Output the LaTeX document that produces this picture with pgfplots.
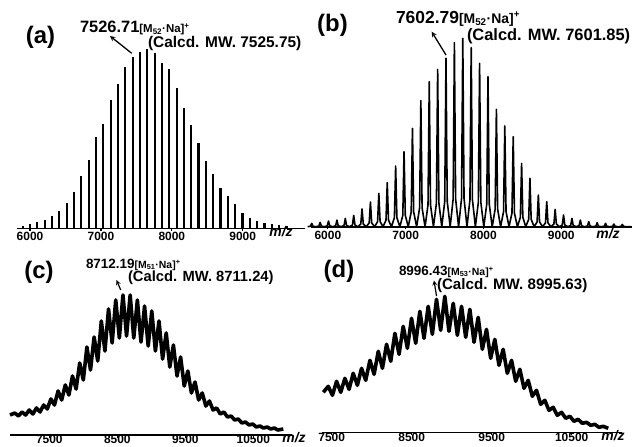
\documentclass[border=0pt]{standalone}
\usepackage{fontspec}
\setmainfont{Liberation Sans}
\usepackage{pgfplots}
\pgfplotsset{compat=1.18}
\begin{document}
\begin{tikzpicture}
\useasboundingbox (0,0) rectangle (633bp,-447bp);
\pgfplotsset{
  spec/.style={scale only axis, axis x line*=bottom, axis y line=none, ymin=0, clip=false,
    enlargelimits=false, tick align=outside, major tick length=2.5bp, scaled x ticks=false,
    xtick style={black, line width=1.2bp}, x axis line style={line width=1.6bp},
    xticklabel style={font=\bfseries\fontsize{12}{12}\selectfont, inner sep=0pt, outer sep=0pt, yshift=-1.5bp},
    ytick=\empty},
}
\newcommand{\mz}{\bfseries\itshape\fontsize{14}{14}\selectfont m/z}
% ---------------- (a)
\begin{axis}[spec, at={(16.7bp,-228.3bp)}, anchor=south west, width=288.3bp, height=179.3bp,
  xmin=5812, xmax=9879, ymax=100, xtick={6000,7000,8000,9000}, xticklabels={6000,7000,8000,9000}]
\addplot[ycomb, black, line width=2.2bp] coordinates {
(5897,1.5)(6000,2.4)(6103,3.3)(6207,4.6)(6310,6.9)(6414,9.9)(6517,14.3)(6620,20.1)(6724,29.4)
(6827,38.1)(6931,50.7)(7034,58.2)(7137,71.6)(7241,80.5)(7344,90.1)(7448,95.7)(7551,98.5)
(7654,100)(7758,98.0)(7861,92.4)(7966,88.8)(8068,78.4)(8171,66.9)(8275,57.6)(8378,47.8)
(8481,37.5)(8585,30.3)(8688,22.7)(8792,18.2)(8895,13.6)(8998,8.4)(9102,5.6)(9205,4.3)
(9309,3.2)(9412,2.4)(9515,1.9)(9619,1.5)};
\end{axis}
% ---------------- (b)
\begin{axis}[spec, at={(311bp,-226.7bp)}, anchor=south west, width=321bp, height=188.4bp,
  xmin=5783, xmax=9909, ymax=100, xtick={6000,7000,8000,9000}, xticklabels={6000,7000,8000,9000}]
\addplot[black, line width=1.6bp, line join=round] coordinates {
(5740,0)(5776,0.27)(5792,1.8)(5808,0.27)(5846,0)
(5884,0.35)(5900,2.3)(5916,0.35)(5954,0)
(5992,0.45)(6008,3.0)(6024,0.45)(6062,0)
(6100,0.53)(6116,3.5)(6132,0.53)(6170,0)
(6208,0.66)(6224,4.4)(6240,0.66)(6278,0)
(6316,0.9)(6332,6.0)(6348,0.9)(6386,0)
(6423,1.4)(6439,9.4)(6455,1.4)(6493,0)
(6531,2.0)(6547,13.1)(6563,2.0)(6601,0)
(6639,2.7)(6655,17.7)(6671,2.7)(6709,0)
(6747,3.5)(6763,23.4)(6779,3.5)(6817,0)
(6855,4.8)(6871,32.2)(6887,4.8)(6925,0)
(6963,6.0)(6979,39.8)(6995,6.0)(7033,0)
(7071,7.8)(7087,52.2)(7103,7.8)(7141,0)
(7179,10)(7195,66.9)(7211,10)(7249,0)
(7287,11.6)(7303,77.0)(7319,11.6)(7357,0)
(7395,12.5)(7411,83.5)(7427,12.5)(7464,0)
(7502,13.4)(7518,89.4)(7534,13.4)(7572,0)
(7610,14.7)(7626,97.7)(7642,14.7)(7680,0)
(7718,15)(7734,100)(7750,15)(7788,0)
(7826,14.3)(7842,95.0)(7858,14.3)(7896,0)
(7934,13)(7950,86.7)(7966,13)(8004,0)
(8042,12)(8058,79.6)(8074,12)(8112,0)
(8150,9.3)(8166,62.3)(8182,9.3)(8220,0)
(8258,8)(8274,53.5)(8290,8)(8328,0)
(8366,7.2)(8382,47.8)(8398,7.2)(8436,0)
(8474,5)(8490,33.6)(8506,5)(8543,0)
(8581,3.9)(8597,25.7)(8613,3.9)(8651,0)
(8689,2.5)(8705,16.8)(8721,2.5)(8759,0)
(8797,2.0)(8813,13.3)(8829,2.0)(8867,0)
(8905,1.4)(8921,9.2)(8937,1.4)(8975,0)
(9013,0.9)(9029,6.2)(9045,0.9)(9083,0)
(9121,0.66)(9137,4.4)(9153,0.66)(9191,0)
(9229,0.53)(9245,3.5)(9261,0.53)(9299,0)
(9337,0.4)(9353,2.7)(9369,0.4)(9407,0)
(9445,0.3)(9461,2.1)(9477,0.3)(9515,0)
(9553,0.27)(9569,1.8)(9585,0.27)(9622,0)
(9660,0.2)(9676,1.4)(9692,0.2)(9730,0)
(9768,0.18)(9784,1.2)(9800,0.18)(9838,0)(9900,0)};
\end{axis}
% ---------------- (c)
\begin{axis}[spec, at={(10bp,-435bp)}, anchor=south west, width=282bp, height=150bp,
  xmin=6922, xmax=11069, ymax=150, xtick={7500,8500,9500,10500}, xticklabels={7500,8500,9500,10500},
  xticklabel style={yshift=4bp}]
\addplot[black, line width=3.6bp, line join=round] coordinates {
(6922,20)
(6993,22)(7046,19)(7099,23)(7152,20)(7205,25)(7258,21)(7311,27)(7364,23)
(7417,30)(7470,26)(7523,36)(7576,30)(7629,44)(7682,35)(7735,50)(7788,40)
(7841,59)(7894,46)(7947,72)(8000,55)(8053,88)(8106,65)(8159,98)(8212,74)
(8265,114)(8318,84)(8371,126)(8424,92)(8477,135)(8530,97)(8583,140)(8636,99)
(8689,140)(8742,97)(8795,135)(8848,93)(8901,129)(8954,89)(9007,124)(9060,84)
(9113,114)(9166,76)(9219,102)(9272,68)(9325,90)(9378,59)(9431,78)(9484,49)
(9537,64)(9590,42)(9643,53)(9696,35)(9749,42)(9802,29)(9855,34)(9908,25)
(9961,27)(10014,21)(10067,23)(10120,18)(10173,19)(10226,15)(10279,16)(10332,12)
(10385,13)(10438,10)(10491,11)(10544,8)(10597,9)(10650,7)(10703,8)(10756,6)
(10809,7)(10860,5)(10941,6)};
\end{axis}
% ---------------- (d)
\begin{axis}[spec, at={(321.7bp,-432.3bp)}, anchor=south west, width=300bp, height=150bp,
  xmin=7375, xmax=11125, ymax=150, xtick={7500,8500,9500,10500}, xticklabels={7500,8500,9500,10500},
  xticklabel style={yshift=3bp}]
\addplot[black, line width=3.6bp, line join=round] coordinates {
(7395,40)
(7457,46)(7509,37)(7561,51)(7613,40)(7665,54)(7717,43)(7769,59)(7821,47)
(7873,64)(7925,52)(7978,72)(8030,58)(8082,81)(8134,64)(8186,88)(8238,71)
(8290,99)(8342,78)(8394,106)(8446,84)(8498,114)(8550,89)(8602,121)(8654,94)
(8706,126)(8758,98)(8810,133)(8862,102)(8914,136)(8966,101)(9019,129)(9071,97)
(9123,126)(9175,95)(9227,123)(9279,90)(9331,115)(9383,83)(9435,103)(9487,74)
(9539,93)(9591,67)(9643,83)(9695,59)(9748,72)(9800,51)(9852,63)(9904,44)
(9956,52)(10008,36)(10060,42)(10112,28)(10164,32)(10216,22)(10268,25)(10320,17)
(10373,20)(10425,14)(10477,16)(10529,11)(10581,13)(10633,9)(10685,10)(10737,7)
(10789,8)(10841,5)(10893,6)(10957,4)};
\end{axis}
% ---------------- annotations
\begin{scope}[every node/.style={inner sep=0pt, outer sep=0pt}]
\node at (281bp,-232bp) {\mz};
\node at (608bp,-234bp) {\mz};
\node at (294bp,-437.5bp) {\mz};
\node at (613bp,-436bp) {\mz};
\node[font=\bfseries\fontsize{24}{24}\selectfont] at (40.5bp,-37bp) {(a)};
\node[font=\bfseries\fontsize{24}{24}\selectfont] at (332.5bp,-25bp) {(b)};
\node[font=\bfseries\fontsize{24}{24}\selectfont] at (39bp,-272.5bp) {(c)};
\node[font=\bfseries\fontsize{24}{24}\selectfont] at (339bp,-271.5bp) {(d)};
% (a)
\node[anchor=base west, font=\bfseries] at (80bp,-32.5bp) {{\fontsize{16.5}{16.5}\selectfont 7526.71}{\fontsize{11.5}{11.5}\selectfont[M\textsubscript{52}·Na]\textsuperscript{+}}};
\node[anchor=base west, font=\bfseries\fontsize{15.5}{15.5}\selectfont] at (148bp,-47bp) {(Calcd. MW. 7525.75)};
\draw[line width=1.3bp, -stealth] (131.7bp,-53.3bp) -- (110bp,-36bp);
% (b)
\node[anchor=base west, font=\bfseries] at (396bp,-23bp) {{\fontsize{17.5}{17.5}\selectfont 7602.79}{\fontsize{14}{14}\selectfont[M\textsubscript{52}·Na]\textsuperscript{+}}};
\node[anchor=base west, font=\bfseries\fontsize{16.5}{16.5}\selectfont] at (467bp,-40bp) {(Calcd. MW. 7601.85)};
\draw[line width=1.3bp, -stealth] (446bp,-55bp) -- (431.7bp,-31.7bp);
% (c)
\node[anchor=base west, font=\bfseries] at (86bp,-268bp) {{\fontsize{13.5}{13.5}\selectfont 8712.19}{\fontsize{10.5}{10.5}\selectfont[M\textsubscript{51}·Na]\textsuperscript{+}}};
\node[anchor=base west, font=\bfseries\fontsize{14.8}{14.8}\selectfont] at (128bp,-281.7bp) {(Calcd. MW. 8711.24)};
\draw[line width=1.2bp, -stealth] (120.7bp,-290bp) -- (116.5bp,-280bp);
% (d)
\node[anchor=base west, font=\bfseries] at (399bp,-275bp) {{\fontsize{13.5}{13.5}\selectfont 8996.43}{\fontsize{10.5}{10.5}\selectfont[M\textsubscript{53}·Na]\textsuperscript{+}}};
\node[anchor=base west, font=\bfseries\fontsize{15.2}{15.2}\selectfont] at (437bp,-289.5bp) {(Calcd. MW. 8995.63)};
\draw[line width=1.2bp, -stealth] (436.5bp,-296bp) -- (434bp,-280.5bp);
\end{scope}
\end{tikzpicture}
\end{document}
